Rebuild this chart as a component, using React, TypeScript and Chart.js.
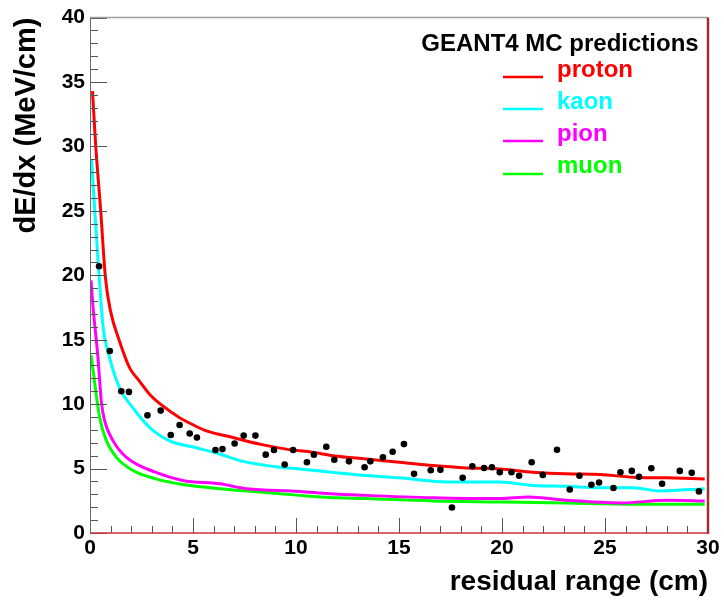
import { useEffect, useRef } from 'react';
import { Chart, registerables } from 'chart.js';

Chart.register(...registerables);

// residual range (cm) / dE/dx (MeV/cm) samples
const protonRange = [0.12, 0.28, 0.52, 0.75, 1.0, 1.44, 1.93, 2.41, 2.9, 3.5, 4.35, 5.0, 5.65, 6.94, 8.24, 9.53, 10.83, 11.8, 13.4, 15.03, 16.65, 18.27, 19.89, 21.5, 23.1, 24.76, 26.36, 27.98, 29.84];
const protonDedx = [34.3, 30.0, 25.0, 19.8, 17.2, 14.85, 12.8, 11.77, 10.75, 9.9, 8.95, 8.4, 7.92, 7.41, 6.9, 6.51, 6.26, 6.0, 5.74, 5.49, 5.23, 5.05, 4.97, 4.72, 4.59, 4.54, 4.33, 4.28, 4.2];

const kaonRange = [0.08, 0.23, 0.44, 0.63, 0.96, 1.44, 2.09, 2.9, 3.87, 5.2, 6.3, 7.27, 9.21, 10.18, 11.7, 13.4, 15.03, 16.65, 18.27, 19.89, 21.5, 23.1, 24.76, 26.36, 27.7, 29.84];
const kaonDedx = [29.0, 25.0, 20.0, 16.1, 13.56, 11.25, 9.7, 8.18, 7.15, 6.6, 6.13, 5.62, 5.1, 4.97, 4.72, 4.46, 4.28, 4.02, 3.95, 3.95, 3.69, 3.62, 3.51, 3.51, 3.26, 3.44];

const pionRange = [0.05, 0.15, 0.39, 0.55, 0.71, 1.12, 1.77, 3.2, 4.5, 6.3, 7.6, 10.18, 11.64, 13.4, 16.65, 19.89, 21.3, 23.1, 25.8, 28.0, 29.84];
const pionDedx = [19.6, 17.5, 13.56, 10.2, 8.7, 7.15, 5.87, 4.7, 4.08, 3.82, 3.44, 3.23, 3.05, 2.92, 2.74, 2.67, 2.8, 2.54, 2.33, 2.54, 2.49];

const muonRange = [0.05, 0.2, 0.47, 0.8, 1.28, 2.09, 3.2, 4.5, 6.3, 7.6, 10.18, 11.64, 13.4, 16.65, 19.89, 23.1, 26.36, 29.84];
const muonDedx = [13.8, 12.0, 8.95, 7.15, 5.87, 4.85, 4.2, 3.77, 3.44, 3.26, 2.92, 2.75, 2.67, 2.49, 2.41, 2.33, 2.23, 2.23];

const dataRange = [0.44, 0.96, 1.52, 1.89, 2.79, 3.43, 3.92, 4.35, 4.84, 5.19, 6.09, 6.43, 7.02, 7.46, 8.03, 8.53, 8.93, 9.45, 9.86, 10.53, 10.87, 11.47, 11.86, 12.57, 13.33, 13.61, 14.22, 14.69, 15.24, 15.73, 16.54, 17.01, 17.57, 18.09, 18.56, 19.13, 19.51, 19.89, 20.46, 20.83, 21.44, 21.98, 22.67, 23.29, 23.76, 24.34, 24.71, 25.41, 25.75, 26.3, 26.65, 27.25, 27.77, 28.63, 29.21, 29.56];
const dataDedx = [20.7, 14.13, 11.0, 10.95, 9.13, 9.5, 7.6, 8.38, 7.72, 7.41, 6.44, 6.51, 6.95, 7.56, 7.56, 6.08, 6.44, 5.31, 6.44, 5.49, 6.08, 6.69, 5.69, 5.56, 5.1, 5.56, 5.87, 6.31, 6.9, 4.59, 4.87, 4.9, 1.98, 4.28, 5.18, 5.05, 5.1, 4.72, 4.72, 4.44, 5.49, 4.51, 6.46, 3.38, 4.44, 3.74, 3.92, 3.49, 4.72, 4.82, 4.36, 5.03, 3.82, 4.82, 4.67, 3.23];

const legendTitle = 'GEANT4 MC predictions';
const seriesNames = ['proton', 'kaon', 'pion', 'muon'];
const seriesColors = ['#ff0000', '#00ffff', '#ff00ff', '#00ff00'];

const xTitle = 'residual range (cm)';
const yTitle = 'dE/dx (MeV/cm)';

const FONT = "'Liberation Sans', Arial, Helvetica, sans-serif";

const toPts = (xs: number[], ys: number[]) => xs.map((x, i) => ({ x, y: ys[i] }));

const framePlugin = {
  id: 'rootFrame',
  afterDraw(chart: any) {
    const { ctx, chartArea } = chart;
    const { left, right, top, bottom } = chartArea;
    const xs = chart.scales.x;
    const ys = chart.scales.y;
    ctx.save();
    // ticks
    ctx.strokeStyle = '#555555';
    ctx.lineWidth = 1;
    ctx.beginPath();
    for (let v = 0; v <= 40; v++) {
      const py = Math.round(ys.getPixelForValue(v)) + 0.5;
      const len = v % 5 === 0 ? 17 : 8;
      ctx.moveTo(left, py);
      ctx.lineTo(left + len, py);
    }
    for (let v = 0; v <= 30; v++) {
      const px = Math.round(xs.getPixelForValue(v)) + 0.5;
      const len = v % 5 === 0 ? 15 : 7;
      ctx.moveTo(px, bottom);
      ctx.lineTo(px, bottom - len);
    }
    ctx.stroke();
    // top line
    ctx.strokeStyle = '#a0a0a0';
    ctx.lineWidth = 1.5;
    ctx.beginPath();
    ctx.moveTo(left, top);
    ctx.lineTo(right, top);
    ctx.stroke();
    // left axis
    ctx.strokeStyle = '#6a6a6a';
    ctx.lineWidth = 1;
    ctx.beginPath();
    ctx.moveTo(left + 0.5, top);
    ctx.lineTo(left + 0.5, bottom);
    ctx.stroke();
    // right border
    ctx.strokeStyle = '#a03030';
    ctx.lineWidth = 2.5;
    ctx.beginPath();
    ctx.moveTo(right, top);
    ctx.lineTo(right, bottom + 1);
    ctx.stroke();
    // bottom line
    ctx.strokeStyle = '#cc3333';
    ctx.lineWidth = 1.5;
    ctx.beginPath();
    ctx.moveTo(left, bottom);
    ctx.lineTo(right + 1, bottom);
    ctx.stroke();

    // legend
    ctx.textBaseline = 'middle';
    ctx.fillStyle = '#000000';
    ctx.font = `bold 24px ${FONT}`;
    ctx.textAlign = 'center';
    ctx.fillText(legendTitle, 560, 44);
    const textY = [70, 102, 134, 166];
    const lineY = [77, 109, 141, 174];
    ctx.textAlign = 'left';
    ctx.font = `bold 24px ${FONT}`;
    seriesNames.forEach((name, i) => {
      ctx.strokeStyle = seriesColors[i];
      ctx.lineWidth = 2.5;
      ctx.beginPath();
      ctx.moveTo(503, lineY[i]);
      ctx.lineTo(543, lineY[i]);
      ctx.stroke();
      ctx.fillStyle = seriesColors[i];
      ctx.fillText(name, 557, textY[i]);
    });
    ctx.restore();
  },
};

export default function App() {
  const ref = useRef<HTMLCanvasElement | null>(null);
  useEffect(() => {
    if (!ref.current) return;
    const curve = (label: string, xs: number[], ys: number[], color: string, order: number) => ({
      label,
      data: toPts(xs, ys),
      showLine: true,
      borderColor: color,
      backgroundColor: color,
      borderWidth: 3,
      pointRadius: 0,
      cubicInterpolationMode: 'monotone',
      order,
    });
    const chart = new Chart(ref.current, {
      type: 'scatter',
      data: {
        datasets: [
          {
            label: 'data',
            data: toPts(dataRange, dataDedx),
            showLine: false,
            pointRadius: 3.3,
            pointBackgroundColor: '#000000',
            pointBorderColor: '#000000',
            pointBorderWidth: 0,
            order: 0,
          } as any,
          curve(seriesNames[0], protonRange, protonDedx, seriesColors[0], 1),
          curve(seriesNames[1], kaonRange, kaonDedx, seriesColors[1], 2),
          curve(seriesNames[2], pionRange, pionDedx, seriesColors[2], 3),
          curve(seriesNames[3], muonRange, muonDedx, seriesColors[3], 4),
        ],
      },
      options: {
        animation: false,
        responsive: false,
        maintainAspectRatio: false,
        layout: { padding: { top: 12, right: 16, left: 0, bottom: 0 } },
        plugins: { legend: { display: false }, tooltip: { enabled: false } },
        scales: {
          x: {
            type: 'linear',
            min: 0,
            max: 30,
            ticks: {
              stepSize: 5,
              autoSkip: false,
              maxRotation: 0,
              padding: 3,
              color: '#000000',
              font: { family: FONT, size: 21, weight: 'bold' },
            },
            grid: { display: false, drawTicks: false },
            border: { display: false },
            title: {
              display: true,
              text: xTitle,
              align: 'end',
              color: '#000000',
              font: { family: FONT, size: 28, weight: 'bold' },
              padding: { top: 0, bottom: 2 },
            },
            afterFit: (s: any) => {
              s.height = 68;
            },
          },
          y: {
            type: 'linear',
            min: 0,
            max: 40,
            ticks: {
              stepSize: 5,
              autoSkip: false,
              padding: 5,
              color: '#000000',
              font: { family: FONT, size: 21, weight: 'bold' },
            },
            grid: { display: false, drawTicks: false },
            border: { display: false },
            title: {
              display: true,
              text: yTitle,
              align: 'end',
              color: '#000000',
              font: { family: FONT, size: 29, weight: 'bold' },
              padding: { top: 10, bottom: 0 },
            },
            afterFit: (s: any) => {
              s.width = 90;
            },
          },
        },
      } as any,
      plugins: [framePlugin],
    });
    return () => chart.destroy();
  }, []);
  return (
    <div style={{ position: 'absolute', left: 0, top: 0, width: 724, height: 601, background: '#ffffff' }}>
      <canvas ref={ref} width={724} height={601} style={{ display: 'block' }} />
    </div>
  );
}
